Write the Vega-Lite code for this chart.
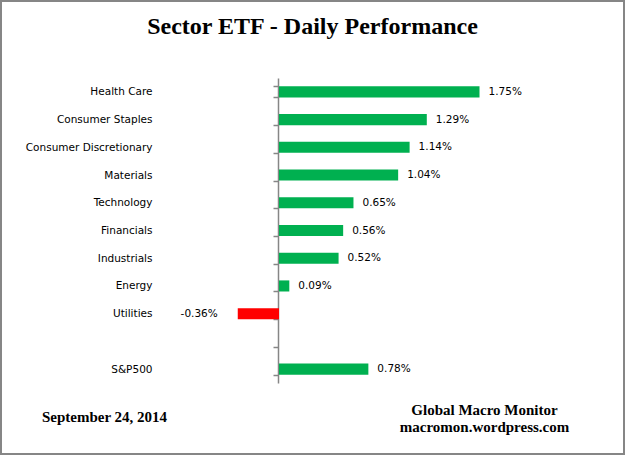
{
  "$schema": "https://vega.github.io/schema/vega-lite/v6.json",
  "width": 623,
  "height": 453,
  "padding": 1,
  "autosize": {"type": "none"},
  "background": "#ffffff",
  "config": {
    "view": {"stroke": "#868686", "strokeWidth": 2},
    "font": "DejaVu Sans"
  },
  "title": {
    "text": "Sector ETF - Daily Performance",
    "font": "Liberation Serif",
    "fontSize": 24,
    "fontWeight": "bold",
    "color": "#000000",
    "anchor": "middle",
    "frame": "group",
    "offset": -30,
    "baseline": "alphabetic",
    "dy": 32
  },
  "data": {
    "values": [
      {"sector": "Health Care", "value": 1.75, "label": "1.75%"},
      {"sector": "Consumer Staples", "value": 1.29, "label": "1.29%"},
      {"sector": "Consumer Discretionary", "value": 1.14, "label": "1.14%"},
      {"sector": "Materials", "value": 1.04, "label": "1.04%"},
      {"sector": "Technology", "value": 0.65, "label": "0.65%"},
      {"sector": "Financials", "value": 0.56, "label": "0.56%"},
      {"sector": "Industrials", "value": 0.52, "label": "0.52%"},
      {"sector": "Energy", "value": 0.09, "label": "0.09%"},
      {"sector": "Utilities", "value": -0.36, "label": "-0.36%"},
      {"sector": "S&P500", "value": 0.78, "label": "0.78%"}
    ]
  },
  "encoding": {
    "y": {
      "field": "sector",
      "type": "nominal",
      "scale": {
        "domain": ["Health Care", "Consumer Staples", "Consumer Discretionary", "Materials", "Technology", "Financials", "Industrials", "Energy", "Utilities", " ", "S&P500"],
        "range": [77, 382],
        "paddingInner": 0.6,
        "paddingOuter": 0.3
      },
      "axis": {
        "orient": "left",
        "offset": -277,
        "domainColor": "#868686",
        "domainWidth": 1.5,
        "tickColor": "#868686",
        "tickWidth": 1.5,
        "tickSize": 5,
        "tickBand": "extent",
        "labelPadding": 121,
        "labelFont": "DejaVu Sans",
        "labelFontSize": 10.5,
        "labelColor": "#000000",
        "grid": false,
        "title": "September 24, 2014",
        "titleFont": "Liberation Serif",
        "titleFontSize": 15,
        "titleFontWeight": "bold",
        "titleColor": "#000000",
        "titleAngle": 0,
        "titleAlign": "center",
        "titleBaseline": "middle",
        "titleX": -174,
        "titleY": 415
      }
    },
    "x": {
      "field": "value",
      "type": "quantitative",
      "scale": {"domain": [0, 1.75], "range": [278, 478.5], "nice": false, "zero": false},
      "axis": {
        "orient": "bottom",
        "domain": false,
        "ticks": false,
        "labels": false,
        "grid": false,
        "title": ["Global Macro Monitor", "macromon.wordpress.com"],
        "titleFont": "Liberation Serif",
        "titleFontSize": 15,
        "titleFontWeight": "bold",
        "titleColor": "#000000",
        "titleAlign": "center",
        "titleBaseline": "alphabetic",
        "titleLineHeight": 17,
        "titleX": 483,
        "titleY": -40
      }
    }
  },
  "layer": [
    {
      "mark": {"type": "bar"},
      "encoding": {
        "color": {"condition": {"test": "datum.value < 0", "value": "#FF0000"}, "value": "#00B050"}
      }
    },
    {
      "transform": [{"filter": "datum.value >= 0"}],
      "mark": {"type": "text", "align": "left", "baseline": "middle", "dx": 9, "fontSize": 10.5, "font": "DejaVu Sans", "color": "#000000"},
      "encoding": {"text": {"field": "label"}}
    },
    {
      "transform": [{"filter": "datum.value < 0"}],
      "mark": {"type": "text", "align": "right", "baseline": "middle", "dx": -20, "fontSize": 10.5, "font": "DejaVu Sans", "color": "#000000"},
      "encoding": {"text": {"field": "label"}}
    }
  ]
}
